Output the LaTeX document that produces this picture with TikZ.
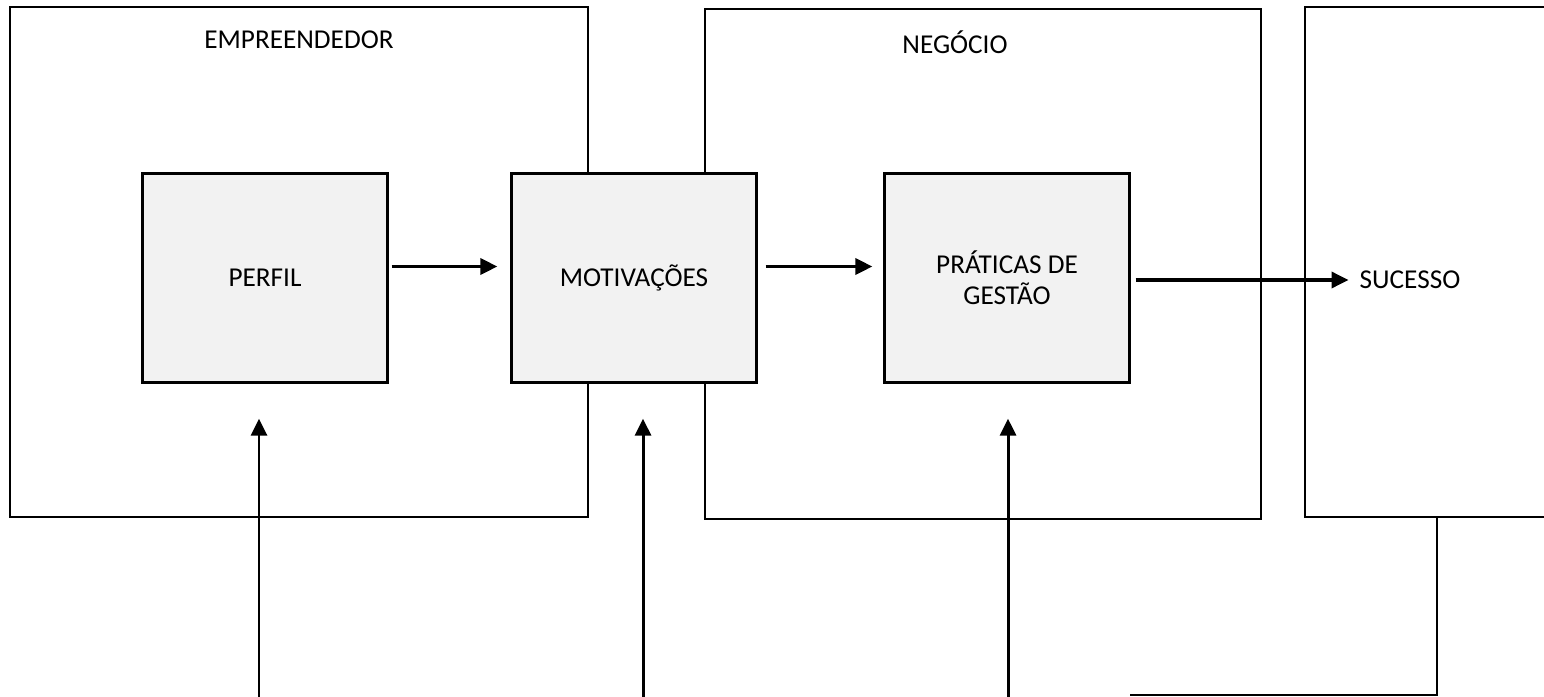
\documentclass[tikz,border=0pt]{standalone}
\usepackage{fontspec}
\setmainfont{Carlito}
\usepackage{tikz}
\usetikzlibrary{positioning, arrows.meta, calc}

\definecolor{boxgray}{HTML}{F2F2F2}

\begin{document}
\begin{tikzpicture}[
        x=0.02cm, y=-0.02cm,
        >={Triangle[length=0.34cm, width=0.32cm]}, % Arrowhead style
        group/.style={draw, line width=1.3pt, minimum width=#1, minimum height=10.2cm},
        stage/.style={draw, line width=1.3pt, fill=boxgray, minimum width=4.9cm, minimum height=4.18cm,
            align=center, font=\fontsize{15.5}{17.6}\selectfont},
        title/.style={font=\fontsize{15.5}{18}\selectfont},
        flow/.style={->, line width=2pt},
        link/.style={line width=1.5pt}
    ]
    \useasboundingbox (0,0) rectangle (1544,696);
    \clip (0,0) rectangle (1544,696);

    % ==========================================
    % Outer boxes
    % ==========================================
    \node[group=11.56cm] (empreendedor) at (299, 262) {};
    \node[group=11.12cm] (negocio) at (983, 264) {};
    \node[group=5.28cm] (sucessobox) at (1437, 262) {};

    \node[title] (tEmp) at (299, 40) {EMPREENDEDOR};
    \node[title] (tNeg) at (955, 42) {NEGÓCIO};
    \node[title] (sucesso) at (1410, 280) {SUCESSO};

    % ==========================================
    % Inner boxes
    % ==========================================
    \node[stage] (perfil) at (265, 278) {PERFIL};
    \node[stage] (motiv) at (634, 278) {MOTIVAÇÕES};
    \node[stage] (praticas) at (1007, 278) {PRÁTICAS DE\\GESTÃO};

    % ==========================================
    % Arrows
    % ==========================================
    \draw[flow, shorten <=0.06cm, shorten >=0.26cm] ([yshift=0.23cm]perfil.east) -- ([yshift=0.23cm]motiv.west);
    \draw[flow, shorten <=0.16cm, shorten >=0.22cm] ([yshift=0.23cm]motiv.east) -- ([yshift=0.23cm]praticas.west);
    \draw[flow, shorten <=0.1cm, shorten >=0.1cm] (praticas.east |- sucesso.west) -- (sucesso.west);

    % Arrows from below
    \coordinate (b1) at (259, 700);
    \coordinate (b2) at (643, 700);
    \coordinate (b3) at (1008, 700);
    \draw[flow, line width=1.7pt, shorten >=0.7cm] (b1) -- (b1 |- perfil.south);
    \draw[flow, line width=1.7pt, shorten >=0.7cm] (b2) -- (b2 |- motiv.south);
    \draw[flow, line width=1.7pt, shorten >=0.7cm] (b3) -- (b3 |- praticas.south);

    % Feedback line
    \coordinate (fb) at (1130, 695);
    \draw[link] (sucessobox.south) -- (sucessobox.south |- fb) -- (fb);

\end{tikzpicture}
\end{document}
